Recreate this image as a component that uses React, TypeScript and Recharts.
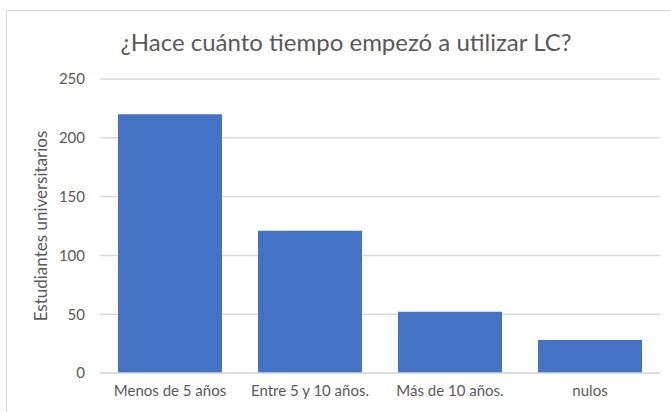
import { BarChart, Bar, XAxis, YAxis, CartesianGrid } from 'recharts';

const categories = ['Menos de 5 años', 'Entre 5 y 10 años.', 'Más de 10 años.', 'nulos'];
const estudiantes = [220, 121, 52, 28];
const yTicks = [0, 50, 100, 150, 200, 250];

const data = categories.map((c, i) => ({ categoria: c, estudiantes: estudiantes[i] }));

const textColor = '#595959';
const gridColor = '#d9d9d9';
const font = 'Lato, "Noto Sans", sans-serif';

export default function App() {
  return (
    <div
      style={{
        position: 'absolute',
        left: 0,
        top: 0,
        width: 671,
        height: 412,
        background: '#fff',
        fontFamily: font,
        overflow: 'hidden',
      }}
    >
      <div
        style={{
          position: 'absolute',
          left: 6,
          top: 10,
          width: 700,
          height: 420,
          borderTop: `1px solid ${gridColor}`,
          borderLeft: `1px solid ${gridColor}`,
        }}
      />
      <div
        style={{
          position: 'absolute',
          left: 0,
          top: 27,
          width: 692,
          textAlign: 'center',
          fontSize: 24,
          lineHeight: '30px',
          color: textColor,
        }}
      >
        ¿Hace cuánto tiempo empezó a utilizar LC?
      </div>
      <div style={{ position: 'absolute', left: 0, top: 0 }}>
        <BarChart
          width={671}
          height={412}
          data={data}
          margin={{ top: 79, right: 11, left: 0, bottom: 0 }}
          barCategoryGap={18}
        >
          <CartesianGrid vertical={false} stroke={gridColor} strokeWidth={1.5} />
          <XAxis
            dataKey="categoria"
            axisLine={{ stroke: gridColor, strokeWidth: 1.5 }}
            tickLine={false}
            tickSize={0}
            tickMargin={12}
            tick={{ fill: textColor, fontSize: 15, fontFamily: font }}
            height={39}
          />
          <YAxis
            width={100}
            domain={[0, 250]}
            ticks={yTicks}
            axisLine={false}
            tickLine={false}
            tickSize={0}
            tickMargin={15}
            tick={{ fill: textColor, fontSize: 15, fontFamily: font }}
            label={{
              content: ({ viewBox }: any) => {
                const x = viewBox.x + 40;
                const y = viewBox.y + viewBox.height / 2;
                return (
                  <text
                    x={x}
                    y={y}
                    transform={`rotate(-90 ${x} ${y})`}
                    textAnchor="middle"
                    dominantBaseline="central"
                    fill={textColor}
                    fontSize={17}
                    fontFamily={font}
                  >
                    Estudiantes universitarios
                  </text>
                );
              },
            }}
          />
          <Bar dataKey="estudiantes" fill="#4472c4" isAnimationActive={false} />
        </BarChart>
      </div>
    </div>
  );
}
